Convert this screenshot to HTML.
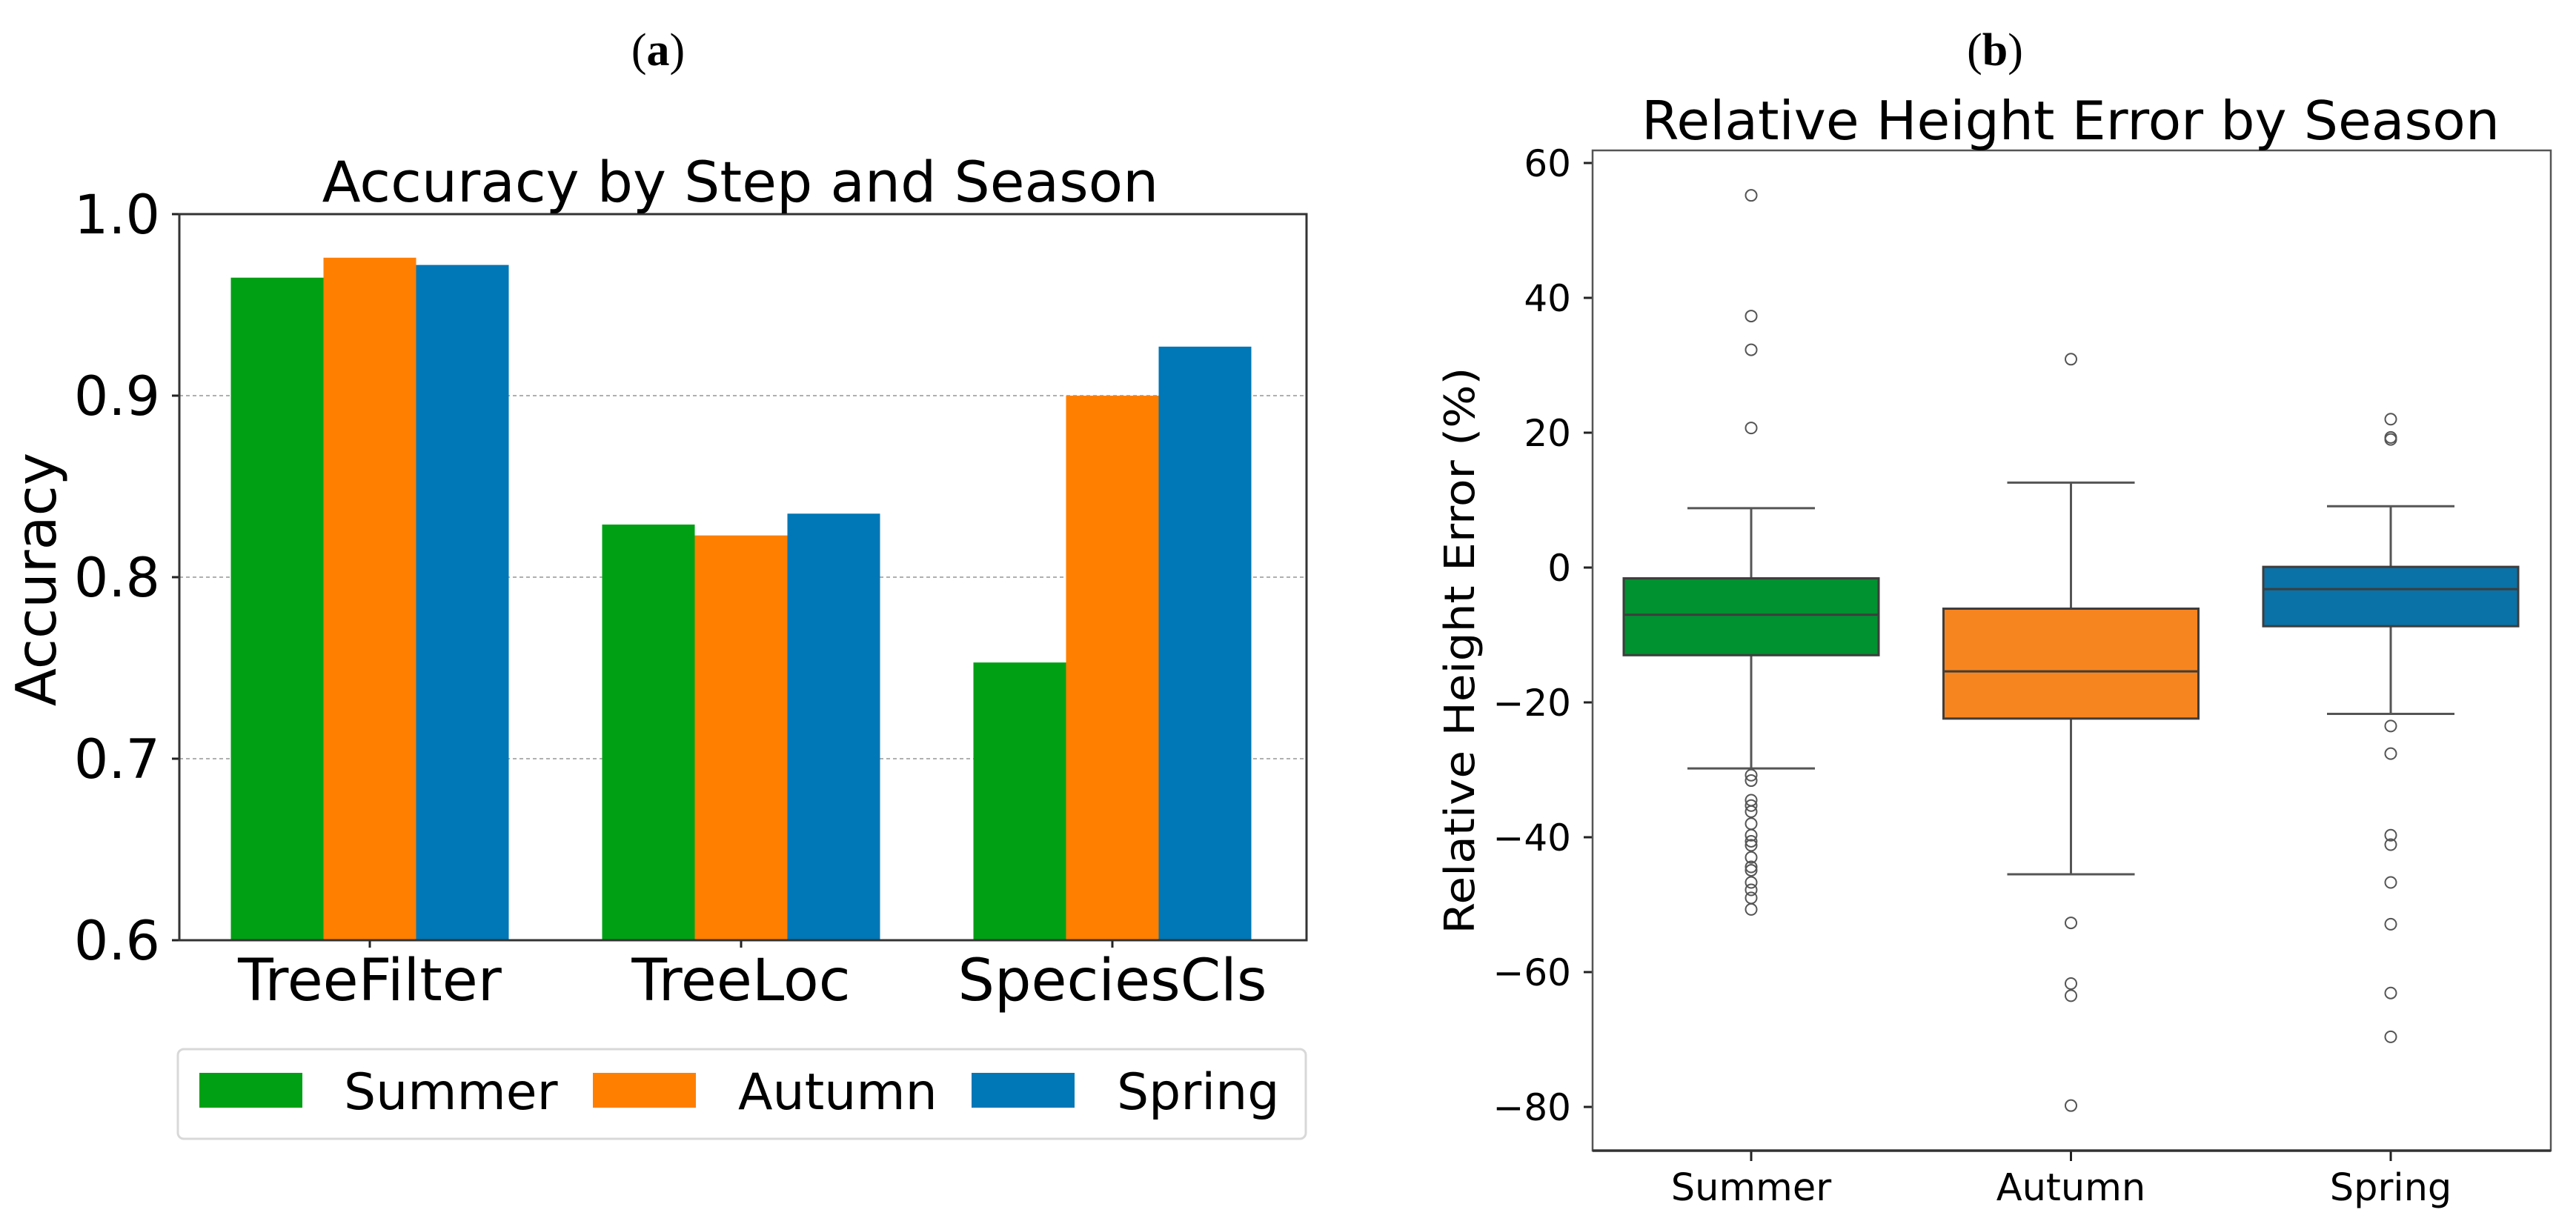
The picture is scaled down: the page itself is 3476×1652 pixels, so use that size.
<!DOCTYPE html>
<html><head><meta charset="utf-8"><style>
html,body{margin:0;padding:0;background:#fff;}
svg{display:block;font-family:"DejaVu Sans","Liberation Sans",sans-serif;}
</style></head><body>
<svg id="fig" width="3476" height="1652" viewBox="0 0 3476 1652" xmlns="http://www.w3.org/2000/svg">
<text x="888" y="88" text-anchor="middle" font-family="Liberation Serif, serif" font-size="62">(<tspan font-weight="bold">a</tspan>)</text>
<text x="2692" y="88" text-anchor="middle" font-family="Liberation Serif, serif" font-size="62">(<tspan font-weight="bold">b</tspan>)</text>
<g id="left"></g>
<g id="right"></g>
</svg>
<script>
const steps = ["TreeFilter","TreeLoc","SpeciesCls"];
const seasons = ["Summer","Autumn","Spring"];
const summerAcc = [0.965, 0.829, 0.753];
const autumnAcc = [0.976, 0.823, 0.900];
const springAcc = [0.972, 0.835, 0.927];
const accTicks = [0.6, 0.7, 0.8, 0.9, 1.0];
const accTickLabels = ["0.6","0.7","0.8","0.9","1.0"];

const boxCats = ["Summer","Autumn","Spring"];
const whiskerHigh = [8.8, 12.6, 9.1];
const q3 = [-1.6, -6.1, 0.1];
const medians = [-7.0, -15.4, -3.2];
const q1 = [-13.0, -22.4, -8.7];
const whiskerLow = [-29.8, -45.5, -21.7];
const summerOutliers = [55.2, 37.3, 32.3, 20.7, -30.8, -31.6, -34.5, -35.3, -36.2, -38, -39.7, -40.6, -41.2, -43, -44.4, -44.9, -46.7, -47.8, -49, -50.7];
const autumnOutliers = [30.9, -52.7, -61.7, -63.5, -79.8];
const springOutliers = [22, 19.3, 19, -23.5, -27.6, -39.7, -41.1, -46.7, -52.9, -63.1, -69.6];
const errTicks = [60, 40, 20, 0, -20, -40, -60, -80];
const errTickLabels = ["60","40","20","0","\u221220","\u221240","\u221260","\u221280"];

const NS = "http://www.w3.org/2000/svg";
function mk(parent, tag, attrs, text) {
  const e = document.createElementNS(NS, tag);
  for (const k in attrs) e.setAttribute(k, attrs[k]);
  if (text !== undefined) e.textContent = text;
  parent.appendChild(e);
  return e;
}

// ---- Left chart ----
const L = document.getElementById('left');
const lx0 = 242, lx1 = 1763, ly0 = 289, ly1 = 1269;
const ly = v => ly1 - (v - 0.6) / 0.4 * (ly1 - ly0);
const groupSpacing = 501;
const lxc = i => 499 + i * groupSpacing;
const barW = 125;
const barColors = ["#00a014", "#ff7f00", "#0077b6"];
const accSeries = [summerAcc, autumnAcc, springAcc];

accTicks.forEach((t, i) => {
  if (t > 0.6 && t < 1.0) {
    const g = mk(L, 'line', {x1: lx0, x2: lx1, y1: ly(t), y2: ly(t), stroke: '#b0b0b0', 'stroke-width': 2, 'stroke-dasharray': '5 4'});
    
    
  }
  const tk = mk(L, 'line', {x1: lx0 - 10, x2: lx0, y1: ly(t), y2: ly(t), stroke: '#222', 'stroke-width': 3});
  
  
  const tl = mk(L, 'text', {x: 216, y: ly(t) + 26, 'text-anchor': 'end', 'font-size': 73}, accTickLabels[i]);
  
  
});
accSeries.forEach((ser, s) => {
  ser.forEach((v, i) => {
    const x = lxc(i) + (s - 1) * barW - barW / 2;
    const r = mk(L, 'rect', {x: x, y: ly(v), width: barW, height: ly1 - ly(v), fill: barColors[s]});
    
    
  });
});
steps.forEach((c, i) => {
  const tk = mk(L, 'line', {x1: lxc(i), x2: lxc(i), y1: ly1, y2: ly1 + 10, stroke: '#222', 'stroke-width': 3});
  
  
  const tl = mk(L, 'text', {x: lxc(i), y: 1350, 'text-anchor': 'middle', 'font-size': 78}, c);
  
  
});
const lframe = mk(L, 'rect', {x: lx0, y: ly0, width: lx1 - lx0, height: ly1 - ly0, fill: 'none', stroke: '#333', 'stroke-width': 3});


const ltitle = mk(L, 'text', {x: 999, y: 272, 'text-anchor': 'middle', 'font-size': 76}, 'Accuracy by Step and Season');


const lyl = mk(L, 'text', {x: 0, y: 0, 'text-anchor': 'middle', 'font-size': 75, transform: 'translate(75,782) rotate(-90)'}, 'Accuracy');


// legend
const lg = mk(L, 'g', {});


const lbox = mk(lg, 'rect', {x: 240, y: 1416, width: 1522, height: 121, rx: 8, fill: '#fff', stroke: '#d8d8d8', 'stroke-width': 3});


const patchX = [269, 800, 1311], textX = [464, 996, 1507];
seasons.forEach((s, i) => {
  const p = mk(lg, 'rect', {x: patchX[i], y: 1448, width: 139, height: 47, fill: barColors[i]});
  
  
  const t = mk(lg, 'text', {x: textX[i], y: 1497, 'font-size': 68}, s);
  
  
});

// ---- Right chart ----
const R = document.getElementById('right');
const rx0 = 2149, rx1 = 3442, ry0 = 203, ry1 = 1553;
const ry = v => 766 - v * 9.1;
const rxc = i => 2363 + i * 431.5;
const boxW = 344;
const boxColors = ["#009130", "#f7851f", "#0a72a6"];
const outliers = [summerOutliers, autumnOutliers, springOutliers];

errTicks.forEach((t, i) => {
  const tk = mk(R, 'line', {x1: rx0 - 12, x2: rx0, y1: ry(t), y2: ry(t), stroke: '#222', 'stroke-width': 3});
  
  
  const tl = mk(R, 'text', {x: 2120, y: ry(t) + 18, 'text-anchor': 'end', 'font-size': 50}, errTickLabels[i]);
  
  
});
boxCats.forEach((c, i) => {
  const cx = rxc(i);
  const g = mk(R, 'g', {});
  
  
  mk(g, 'line', {x1: cx, x2: cx, y1: ry(whiskerHigh[i]), y2: ry(q3[i]), stroke: '#555', 'stroke-width': 3});
  mk(g, 'line', {x1: cx, x2: cx, y1: ry(q1[i]), y2: ry(whiskerLow[i]), stroke: '#555', 'stroke-width': 3});
  mk(g, 'line', {x1: cx - boxW / 4, x2: cx + boxW / 4, y1: ry(whiskerHigh[i]), y2: ry(whiskerHigh[i]), stroke: '#555', 'stroke-width': 3});
  mk(g, 'line', {x1: cx - boxW / 4, x2: cx + boxW / 4, y1: ry(whiskerLow[i]), y2: ry(whiskerLow[i]), stroke: '#555', 'stroke-width': 3});
  mk(g, 'rect', {x: cx - boxW / 2, y: ry(q3[i]), width: boxW, height: ry(q1[i]) - ry(q3[i]), fill: boxColors[i], stroke: '#3d3d3d', 'stroke-width': 3});
  mk(g, 'line', {x1: cx - boxW / 2, x2: cx + boxW / 2, y1: ry(medians[i]), y2: ry(medians[i]), stroke: '#3d3d3d', 'stroke-width': 3});
  outliers[i].forEach(v => {
    const o = mk(g, 'circle', {cx: cx, cy: ry(v), r: 7.5, fill: 'none', stroke: '#555', 'stroke-width': 2});
    
    
  });
  const tk = mk(R, 'line', {x1: cx, x2: cx, y1: ry1, y2: ry1 + 14, stroke: '#222', 'stroke-width': 3});
  
  
  const tl = mk(R, 'text', {x: cx, y: 1620, 'text-anchor': 'middle', 'font-size': 51}, c);
  
  
});
const rframe = mk(R, 'rect', {x: rx0, y: ry0, width: rx1 - rx0, height: ry1 - ry0, fill: 'none', stroke: '#555', 'stroke-width': 2.5});


const rbot = mk(R, 'line', {x1: rx0, x2: rx1, y1: ry1, y2: ry1, stroke: '#333', 'stroke-width': 3.5});


const rtitle = mk(R, 'text', {x: 2794, y: 188, 'text-anchor': 'middle', 'font-size': 72, textLength: 1158, lengthAdjust: 'spacingAndGlyphs'}, 'Relative Height Error by Season');


const ryl = mk(R, 'text', {x: 0, y: 0, 'text-anchor': 'middle', 'font-size': 56, textLength: 765, lengthAdjust: 'spacingAndGlyphs', transform: 'translate(1989,878) rotate(-90)'}, 'Relative Height Error (%)');


</script>
</body></html>
